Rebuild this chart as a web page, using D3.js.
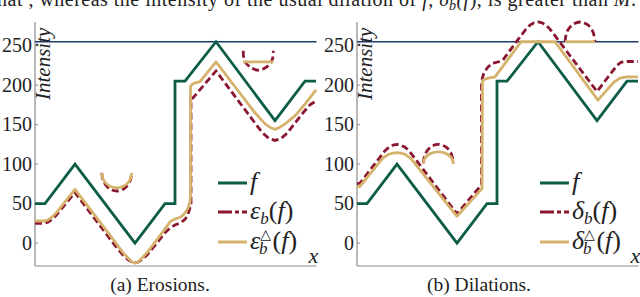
<!DOCTYPE html>
<html>
<head>
<meta charset="utf-8">
<script src="https://cdn.jsdelivr.net/npm/d3@7"></script>
<style>
  body { margin: 0; background: #fff; }
  svg { display: block; }
  text { font-family: "Liberation Serif", "Times New Roman", "DejaVu Serif", serif; }
</style>
</head>
<body>
<svg id="chart" width="640" height="297"></svg>
<script>
// signal f (same in both panels)
const fPts = [[0,50],[1,50],[4,100],[10,0],[13,50],[14,50],[14,205],[15,205],[18.1,255],[24,155],[27,205],[28.1,205]];

// erosion by b
const eroPts = [[0,25],[0.9,25],[1.3,26.5],[1.7,30],[2.1,35],[4,64],[8,-3],[8.8,-15],[9.3,-21],[9.7,-24],[10,-24.5],
  [10.3,-24],[10.7,-21],[11.2,-15],[12,-3],[13,13],[13.5,19],[14,23],[14.6,26],[15,30],[15.3,36],[15.5,45],[15.6,50],
  [15.6,181],[18.1,218],[22,152],[22.8,139],[23.4,132.5],[24,130],[24.6,132.5],[25.2,139],[26,152],[27,168],[27.5,175],[28.1,180]];
// erosion by b (triangle variant)
const eroTriPts = [[0,28],[0.9,28],[1.3,29.5],[1.7,33],[2.1,38],[4,68],[8,1.5],[8.8,-12],[9.3,-19],[9.7,-24],[10,-25.5],
  [10.3,-24],[10.7,-19],[11.2,-12],[12,1],[13,18],[13.5,27],[14,30.5],[14.6,33],[15,38],[15.3,44],[15.5,52],[15.55,60],
  [15.55,198],[15.7,201],[16,203],[16.5,204.5],[18.1,229.5],[20,198],[22,165],[23,151],[23.6,146],[24,144],[24.4,146],
  [25,151],[26,161],[27,176],[28.1,194]];

// dilation by b
const dilPts = [[0,75],[0.3,76],[2.8,117],[3.2,121.5],[3.6,124],[4,125],[4.4,124],[4.8,121.5],[5.2,117],[10,37],
  [12.45,74],[12.45,205],[12.7,216],[13.1,223],[13.6,228],[14.3,230],[14.6,232],[16,256],[16.9,271],[17.3,276],
  [17.7,279],[18.1,280],[18.5,279],[18.9,276],[19.3,271],[24,192],[26,225],[26.4,229],[27,230],[28.1,230]];
// dilation by b (triangle variant)
const dilTriPts = [[0,71],[0.3,72],[2.6,108],[3.2,112.5],[3.6,114],[4,114.5],[4.4,114],[4.8,112.5],[5.4,107],[10,34],
  [12.5,69],[12.55,206],[13,208.5],[13.8,210.5],[16.4,255],[19.8,255],[24.1,181],[25,194],[25.7,204],[26.3,209],
  [27,210.5],[28.1,210.5]];

// structuring element sketches
const bowlLowRed = [[6.67,89],[6.87,77.5],[7.42,69.1],[8.17,66],[8.92,69.1],[9.47,77.5],[9.67,89]];
const bowlLowTri = [[6.67,89],[6.87,79.5],[7.42,72.5],[8.17,70],[8.92,72.5],[9.47,79.5],[9.67,89]];
const bowlHighRed = [[20.83,243.5],[20.86,236],[21.05,229],[21.58,222.4],[22.33,219],[23.08,222.4],[23.61,229],[23.8,236],[23.83,243.5]];
const bowlHighTri = [[20.8,229.5],[23.85,229.5]];
const domeLowRed = [[6.63,101],[6.83,113],[7.38,121.8],[8.13,125],[8.88,121.8],[9.43,113],[9.63,101]];
const domeLowTri = [[6.63,101],[6.83,108.3],[7.38,113.6],[8.13,115.6],[8.88,113.6],[9.43,108.3],[9.63,101]];
const domeHighRed = [[20.8,255],[21,267.5],[21.55,276.6],[22.3,280],[23.05,276.6],[23.6,267.5],[23.8,255]];
const domeHighTri = [[20.8,255],[23.8,255]];

const yTicks = [0, 50, 100, 150, 200, 250];
const maxLevel = 255;

const GREEN = "#0d5c47", RED = "#8a1630", TAN = "#d5b26c", NAVY = "#1c3b6e", AXIS = "#8c8c8c";
const SERIF = "Liberation Serif";

const svg = d3.select("#chart");
const y = d3.scaleLinear().domain([-29, 280]).range([266, 22]);

// cropped line of running text above the figure
svg.append("text")
  .attr("x", -9).attr("y", 6)
  .attr("font-family", SERIF).attr("font-size", 20).attr("fill", "#222")
  .attr("textLength", 645).attr("lengthAdjust", "spacing")
  .html('that , whereas the intensity of the usual dilation of <tspan font-style="italic">f</tspan>, <tspan font-style="italic">δ<tspan font-size="14" dy="4">b</tspan><tspan dy="-4">(</tspan>f</tspan>), is greater than <tspan font-style="italic">M</tspan>.');

function panel(x0, x1, lines, sketches, caption, captionX, legendLabels) {
  const x = d3.scaleLinear().domain([0, 28.15]).range([x0, x1]);
  const g = svg.append("g").attr("font-family", SERIF);
  const line = d3.line().x(d => x(d[0])).y(d => y(d[1]));
  const arc = d3.line().x(d => x(d[0])).y(d => y(d[1])).curve(d3.curveCatmullRom);

  // axes
  g.append("line").attr("x1", x0).attr("x2", x0).attr("y1", 22).attr("y2", 266)
    .attr("stroke", AXIS).attr("stroke-width", 1.2);
  g.append("line").attr("x1", x0).attr("x2", x1).attr("y1", 266).attr("y2", 266)
    .attr("stroke", AXIS).attr("stroke-width", 1.2);
  yTicks.forEach(t => {
    g.append("line").attr("x1", x0).attr("x2", x0 + 3).attr("y1", y(t)).attr("y2", y(t))
      .attr("stroke", AXIS).attr("stroke-width", 1);
    g.append("text").attr("x", x0 - 3).attr("y", y(t) + 6.5)
      .attr("text-anchor", "end").attr("font-size", 20).attr("fill", "#222").text(t);
  });

  // max intensity level
  g.append("line").attr("x1", x0).attr("x2", x1).attr("y1", y(maxLevel)).attr("y2", y(maxLevel))
    .attr("stroke", NAVY).attr("stroke-width", 1.3);

  g.append("text").attr("transform", `translate(${x0 + 15},100) rotate(-90)`)
    .attr("font-size", 21).attr("font-style", "italic").attr("fill", "#222").text("Intensity");
  g.append("text").attr("x", x1 - 8).attr("y", 263)
    .attr("font-size", 22).attr("font-style", "italic").attr("fill", "#222").text("x");

  // curves
  g.append("path").attr("d", line(fPts)).attr("fill", "none")
    .attr("stroke", GREEN).attr("stroke-width", 2.8).attr("stroke-linejoin", "miter");
  g.append("path").attr("d", line(lines[0])).attr("fill", "none")
    .attr("stroke", RED).attr("stroke-width", 2.8).attr("stroke-dasharray", "7,3.5");
  g.append("path").attr("d", line(lines[1])).attr("fill", "none")
    .attr("stroke", TAN).attr("stroke-width", 2.8).attr("stroke-linejoin", "round");

  // structuring element sketches
  sketches.forEach(s => {
    g.append("path").attr("d", arc(s[0])).attr("fill", "none")
      .attr("stroke", RED).attr("stroke-width", 2.8).attr("stroke-dasharray", "7,3.5");
    g.append("path").attr("d", arc(s[1])).attr("fill", "none")
      .attr("stroke", TAN).attr("stroke-width", 2.8);
  });

  // legend
  const lx = x0 + 183, ly = [183, 212, 242];
  const styles = [[GREEN, null], [RED, "14,3,4,3,8"], [TAN, null]];
  styles.forEach((s, i) => {
    g.append("line").attr("x1", lx).attr("x2", lx + 29).attr("y1", ly[i]).attr("y2", ly[i])
      .attr("stroke", s[0]).attr("stroke-width", 3).attr("stroke-dasharray", s[1]);
    g.append("text").attr("x", lx + 32).attr("y", ly[i] + 7)
      .attr("font-size", 26).attr("fill", "#222").html(legendLabels[i]);
  });

  g.append("text").attr("x", captionX).attr("y", 291)
    .attr("text-anchor", "middle").attr("font-size", 19.5).attr("fill", "#222").text(caption);
}

panel(35, 316.5, [eroPts, eroTriPts], [[bowlLowRed, bowlLowTri], [bowlHighRed, bowlHighTri]], "(a) Erosions.", 160, [
  '<tspan font-style="italic">f</tspan>',
  '<tspan font-style="italic">ε</tspan><tspan font-size="17" font-style="italic" dy="5">b</tspan><tspan dy="-5">(</tspan><tspan font-style="italic">f</tspan>)',
  '<tspan font-style="italic">ε</tspan><tspan font-size="14" dy="-10">△</tspan><tspan font-size="17" font-style="italic" dx="-12" dy="15">b</tspan><tspan dy="-5" dx="5">(</tspan><tspan font-style="italic">f</tspan>)'
]);
panel(357, 638.5, [dilPts, dilTriPts], [[domeLowRed, domeLowTri], [domeHighRed, domeHighTri]], "(b) Dilations.", 479, [
  '<tspan font-style="italic">f</tspan>',
  '<tspan font-style="italic">δ</tspan><tspan font-size="17" font-style="italic" dy="5">b</tspan><tspan dy="-5">(</tspan><tspan font-style="italic">f</tspan>)',
  '<tspan font-style="italic">δ</tspan><tspan font-size="14" dy="-10">△</tspan><tspan font-size="17" font-style="italic" dx="-12" dy="15">b</tspan><tspan dy="-5" dx="5">(</tspan><tspan font-style="italic">f</tspan>)'
]);
</script>
</body>
</html>
